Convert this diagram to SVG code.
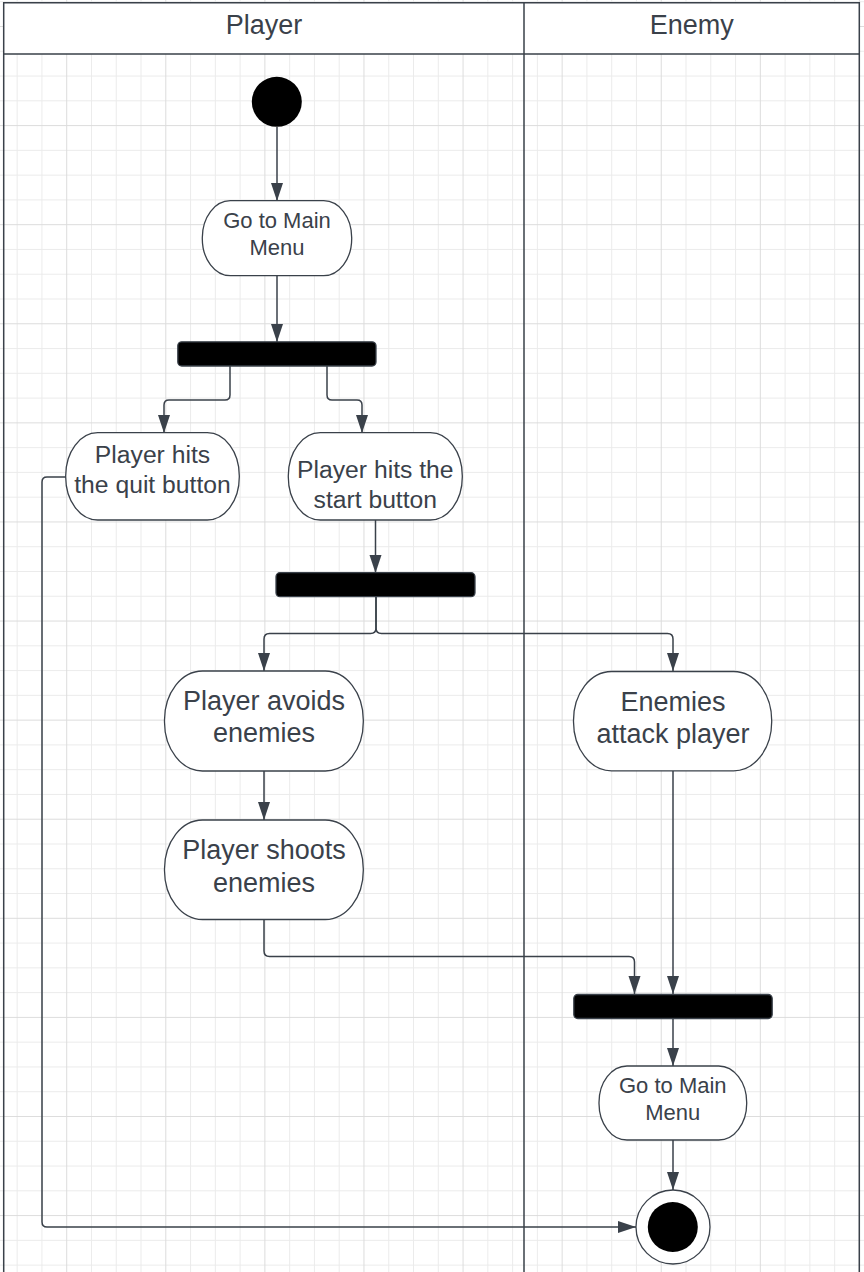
<svg xmlns="http://www.w3.org/2000/svg" width="864" height="1272" viewBox="0 0 864 1272">
<defs>
<pattern id="grid" patternUnits="userSpaceOnUse" x="66.2" y="26" width="99.09" height="99.09">
<path d="M25.27 0V99.09M50.04 0V99.09M74.81 0V99.09M0 25.27H99.09M0 50.04H99.09M0 74.81H99.09" stroke="#ebebeb" stroke-width="1" fill="none"/>
<path d="M0.5 0V99.09M0 0.5H99.09" stroke="#dcdcdc" stroke-width="1" fill="none"/>
</pattern>
<marker id="arr" markerUnits="userSpaceOnUse" markerWidth="20" markerHeight="14" refX="18" refY="6" orient="auto">
<path d="M0,0 L18,6 L0,12 z" fill="#3a414a"/>
</marker>
<style>
.lane{fill:none;stroke:#3a414a;stroke-width:1.5}
.hdr{font-family:"Liberation Sans",Arial,sans-serif;font-size:27px;fill:#3a414a;text-anchor:middle}
.act{fill:#ffffff;stroke:#3a414a;stroke-width:1.3}
.bar{fill:#000000;stroke:#3a414a;stroke-width:1.3}
.t{font-family:"Liberation Sans",Arial,sans-serif;fill:#3a414a;text-anchor:middle}
.s22{font-size:22px}
.s25{font-size:24.7px}
.s27{font-size:27px}
.c{fill:none;stroke:#3a414a;stroke-width:1.5;marker-end:url(#arr)}
</style>
</defs>
<rect x="0" y="0" width="864" height="1272" fill="#ffffff"/>
<rect x="0" y="0" width="864" height="1272" fill="url(#grid)"/>
<g id="lanes">
<rect x="3.7" y="2.7" width="855.6" height="51.3" fill="#ffffff"/>
<path class="lane" d="M3.7 1280V2.7H859.3V1280M3.7 54H859.3M524 2.7V1280"/>
<text class="hdr" x="264" y="34.3">Player</text>
<text class="hdr" x="691.7" y="34.3">Enemy</text>
</g>
<g id="connectors">
<path class="c" d="M277 127V201"/>
<path class="c" d="M277 276V342"/>
<path class="c" d="M230 366V395Q230 400 225 400H169Q164 400 164 405V433"/>
<path class="c" d="M327 366V395Q327 400 332 400H357Q362 400 362 405V433"/>
<path class="c" d="M66 477H47Q42 477 42 482V1222Q42 1227 47 1227H636"/>
<path class="c" d="M375.5 520V573"/>
<path class="c" d="M376 597V628Q376 633.5 370.5 633.5H269.5Q264 633.5 264 639V671"/>
<path class="c" d="M376 597V628Q376 633.5 381.5 633.5H667.5Q673 633.5 673 639V671"/>
<path class="c" d="M264 771V820"/>
<path class="c" d="M264 920V951Q264 956.5 269.5 956.5H629Q634.5 956.5 634.5 962V994"/>
<path class="c" d="M673 771V994"/>
<path class="c" d="M673 1018.5V1066"/>
<path class="c" d="M673 1140V1190"/>
</g>
<g id="start"><circle cx="276.8" cy="101.8" r="25" fill="#000000"/></g>
<g id="menu1">
<rect class="act" x="202.3" y="200.7" width="149.4" height="75" rx="28" ry="37"/>
<text class="t s22" x="277" y="228.3">Go to Main</text>
<text class="t s22" x="277" y="255">Menu</text>
</g>
<g id="fork1"><rect class="bar" x="177.8" y="341.8" width="198.2" height="24.2" rx="4"/></g>
<g id="quit">
<rect class="act" x="65.7" y="432.7" width="173.6" height="87.3" rx="32" ry="43"/>
<text class="t s25" x="152.5" y="463.3">Player hits</text>
<text class="t s25" x="152.5" y="493.3">the quit button</text>
</g>
<g id="startbtn">
<rect class="act" x="288.3" y="432.7" width="174" height="87.3" rx="32" ry="43"/>
<text class="t s25" x="375.3" y="477.7">Player hits the</text>
<text class="t s25" x="375.3" y="507.7">start button</text>
</g>
<g id="fork2"><rect class="bar" x="276" y="572.7" width="199" height="24" rx="4"/></g>
<g id="avoid">
<rect class="act" x="164.5" y="671" width="198.8" height="100" rx="38" ry="49"/>
<text class="t s27" x="264" y="710">Player avoids</text>
<text class="t s27" x="264" y="742.3">enemies</text>
</g>
<g id="attack">
<rect class="act" x="573.5" y="671.5" width="198.2" height="99.3" rx="38" ry="49"/>
<text class="t s27" x="673" y="710.7">Enemies</text>
<text class="t s27" x="673" y="743.3">attack player</text>
</g>
<g id="shoot">
<rect class="act" x="164.5" y="820" width="198.8" height="99.5" rx="38" ry="49"/>
<text class="t s27" x="264" y="859.3">Player shoots</text>
<text class="t s27" x="264" y="891.7">enemies</text>
</g>
<g id="join"><rect class="bar" x="573.8" y="994.5" width="198.4" height="24" rx="4"/></g>
<g id="menu2">
<rect class="act" x="599" y="1066" width="147.7" height="74" rx="28" ry="36.5"/>
<text class="t s22" x="672.8" y="1093.3">Go to Main</text>
<text class="t s22" x="672.8" y="1120">Menu</text>
</g>
<g id="final">
<circle cx="673" cy="1227" r="37" fill="#ffffff" stroke="#3a414a" stroke-width="1.3"/>
<circle cx="672.8" cy="1227" r="25" fill="#000000"/>
</g>
</svg>
